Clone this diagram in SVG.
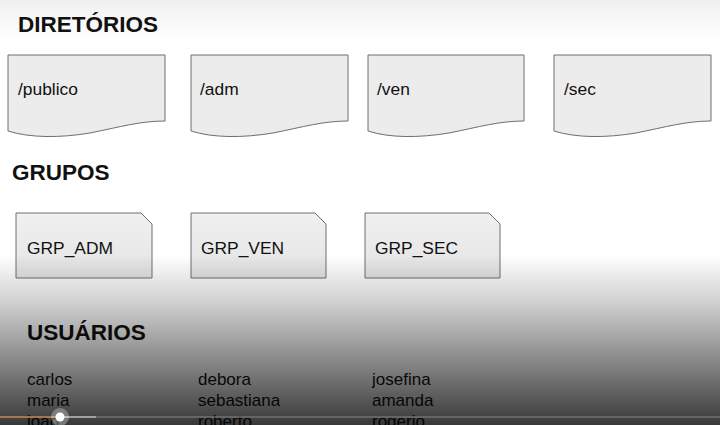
<svg xmlns="http://www.w3.org/2000/svg" width="720" height="425" viewBox="0 0 720 425">
<defs>
<style>
.h{font-family:"Liberation Sans",Arial,sans-serif;font-weight:bold;font-size:22.5px;fill:#111}
.t{font-family:"Liberation Sans",Arial,sans-serif;font-size:17.4px;fill:#111}
.u{font-family:"Liberation Sans",Arial,sans-serif;font-size:17px;fill:#111}
.doc{fill:#ececec;stroke:#6e6e6e;stroke-width:1}
.grp{fill:url(#gg);stroke:#6e6e6e;stroke-width:1}
</style>
<linearGradient id="gg" x1="0" y1="0" x2="0" y2="1">
<stop offset="0" stop-color="#f0f0f0"/>
<stop offset="1" stop-color="#e4e4e4"/>
</linearGradient>
<linearGradient id="shade" x1="0" y1="0" x2="0" y2="1">
<stop offset="0" stop-color="#000" stop-opacity="0"/>
<stop offset="0.3" stop-color="#000" stop-opacity="0.2"/>
<stop offset="1" stop-color="#000" stop-opacity="0.78"/>
</linearGradient>
<linearGradient id="topshade" x1="0" y1="0" x2="0" y2="1">
<stop offset="0" stop-color="#000" stop-opacity="0.06"/>
<stop offset="1" stop-color="#000" stop-opacity="0"/>
</linearGradient>
</defs>
<rect width="720" height="425" fill="#fff"/>

<text class="h" x="18" y="32">DIRETÓRIOS</text>
<text class="h" x="12" y="180">GRUPOS</text>
<text class="h" x="27" y="340">USUÁRIOS</text>

<g id="dir-publico">
<path class="doc" d="M8,55 H165 V121 C140,121 120,127 90,133 C60,138 30,138 8,131 Z"/>
<text class="t" x="18" y="95">/publico</text>
</g>
<g id="dir-adm">
<path class="doc" d="M191,55 H348 V121 C323,121 303,127 273,133 C243,138 213,138 191,131 Z"/>
<text class="t" x="200" y="95">/adm</text>
</g>
<g id="dir-ven">
<path class="doc" d="M368,55 H524 V121 C499,121 479,127 449,133 C419,138 389,138 368,131 Z"/>
<text class="t" x="377" y="95">/ven</text>
</g>
<g id="dir-sec">
<path class="doc" d="M554,55 H711 V121 C686,121 666,127 636,133 C606,138 576,138 554,131 Z"/>
<text class="t" x="564" y="95">/sec</text>
</g>

<g id="grp-adm">
<path class="grp" d="M16,213 H141 L152,224 V278 H16 Z"/>
<text class="t" x="27" y="254">GRP_ADM</text>
</g>
<g id="grp-ven">
<path class="grp" d="M191,213 H315 L326,224 V278 H191 Z"/>
<text class="t" x="201" y="254">GRP_VEN</text>
</g>
<g id="grp-sec">
<path class="grp" d="M365,213 H489 L500,224 V278 H365 Z"/>
<text class="t" x="375" y="254">GRP_SEC</text>
</g>

<g id="usuarios">
<text class="u" x="27" y="385">carlos</text>
<text class="u" x="27" y="406">maria</text>
<text class="u" x="27" y="427">joao</text>
<text class="u" x="198" y="385">debora</text>
<text class="u" x="198" y="406">sebastiana</text>
<text class="u" x="198" y="427">roberto</text>
<text class="u" x="372" y="385">josefina</text>
<text class="u" x="372" y="406">amanda</text>
<text class="u" x="372" y="427">rogerio</text>
</g>

<g id="connectors"/>

<rect x="0" y="0" width="720" height="40" fill="url(#topshade)"/>
<rect x="0" y="255" width="720" height="170" fill="url(#shade)"/>
<line x1="0" y1="417" x2="720" y2="417" stroke="#888" stroke-width="1"/>
<line x1="0" y1="417" x2="60" y2="417" stroke="#e8893a" stroke-width="1.2"/>
<line x1="60" y1="417" x2="96" y2="417" stroke="#ddd" stroke-width="1.2"/>
<circle cx="60" cy="417" r="9" fill="#fff" fill-opacity="0.3"/>
<circle cx="60" cy="417" r="4.5" fill="#fff"/>
</svg>
